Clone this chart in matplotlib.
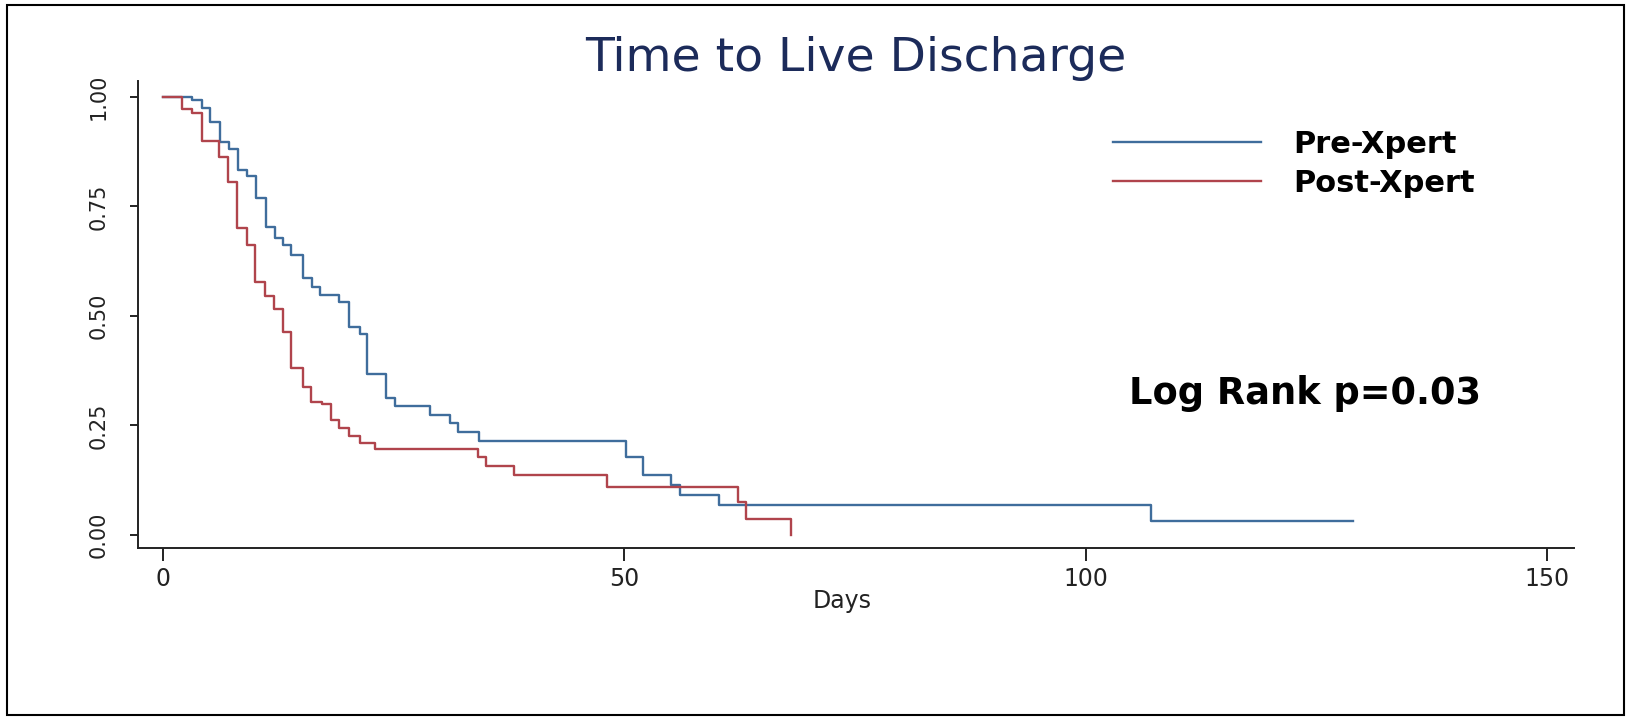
import matplotlib
matplotlib.use("Agg")
import matplotlib.pyplot as plt
from matplotlib.patches import Rectangle

# Kaplan-Meier steps: day of each drop, survival after it
pre_days = [0, 3.1, 4.2, 5.1, 6.2, 7.1, 8.1, 9.1, 10.1, 11.2, 12.1, 13.0, 13.9,
            15.2, 16.1, 17.0, 19.1, 20.2, 21.3, 22.1, 24.2, 25.1, 28.9, 31.1,
            32.0, 34.2, 50.2, 52.0, 55.0, 56.0, 60.2, 107.1, 129.0]
pre_surv = [1.0, 0.992, 0.975, 0.942, 0.898, 0.881, 0.833, 0.820, 0.769, 0.704,
            0.677, 0.662, 0.639, 0.586, 0.567, 0.548, 0.533, 0.475, 0.458, 0.367,
            0.312, 0.295, 0.273, 0.255, 0.234, 0.215, 0.177, 0.138, 0.114, 0.091,
            0.068, 0.033, 0.033]

post_days = [0, 2.1, 3.1, 4.2, 6.1, 7.0, 8.0, 9.1, 10.0, 11.05, 12.05, 13.0,
             13.9, 15.15, 16.05, 17.2, 18.2, 19.1, 20.2, 21.3, 23.0, 34.15, 35.0,
             38.0, 48.15, 62.3, 63.2, 68.1]
post_surv = [1.0, 0.973, 0.963, 0.900, 0.864, 0.807, 0.700, 0.662, 0.578, 0.545,
             0.515, 0.464, 0.381, 0.338, 0.304, 0.298, 0.263, 0.245, 0.226, 0.211,
             0.196, 0.177, 0.157, 0.138, 0.110, 0.076, 0.037, 0.0]

series_labels = ["Pre-Xpert", "Post-Xpert"]
x_ticks = [0, 50, 100, 150]
y_ticks = [0.00, 0.25, 0.50, 0.75, 1.00]

BLUE = "#3f6d9c"
RED = "#b0444c"
INK = "#222222"

W, H = 1627, 717
fig = plt.figure(figsize=(W / 100, H / 100), dpi=100)

# axes box in pixels: left spine x=138, right end x=1574, top y=81, bottom y=548
ax = fig.add_axes([138 / W, (H - 548) / H, (1574 - 138) / W, (548 - 81) / H])

ax.step(pre_days, pre_surv, where="post", color=BLUE, lw=1.7, label=series_labels[0])
ax.step(post_days, post_surv, where="post", color=RED, lw=1.7, label=series_labels[1])

ax.set_xlim(-2.71, 152.9)
ax.set_ylim(-0.0297, 1.0365)

for side in ["top", "right"]:
    ax.spines[side].set_visible(False)
for side in ["left", "bottom"]:
    ax.spines[side].set_color(INK)
    ax.spines[side].set_linewidth(1.4)

ax.set_xticks(x_ticks)
ax.set_xticklabels([str(t) for t in x_ticks], fontsize=17, color=INK)
ax.set_yticks(y_ticks)
ax.set_yticklabels([f"{t:.2f}" for t in y_ticks], fontsize=15, color=INK,
                   rotation=90, va="center")
ax.tick_params(axis="x", length=9, width=1.4, pad=5, color=INK)
ax.tick_params(axis="y", length=6, width=1.4, pad=15, color=INK)

ax.set_xlabel("Days", fontsize=17, color=INK)
ax.xaxis.set_label_coords((842 - 138) / (1574 - 138), (548 - 589) / (548 - 81))

ax.set_title("Time to Live Discharge", fontsize=34, color="#1c2b5a", pad=-1)

ax.legend(loc="upper left", bbox_to_anchor=(1113 / W, 1 - 130 / H),
          bbox_transform=fig.transFigure, frameon=False, borderpad=0,
          borderaxespad=0, handlelength=4.85, handletextpad=1.05,
          labelspacing=0.32, prop={"size": 22, "weight": "bold"})

fig.text(1129 / W, 1 - 394 / H, "Log Rank p=0.03", fontsize=26.5,
         fontweight="bold", color="black", ha="left", va="center")

# thin frame round the whole picture
fig.patches.append(Rectangle((7 / W, 2 / H), (1624 - 7) / W, (712 - 2) / H,
                             transform=fig.transFigure, fill=False,
                             ec="black", lw=1.5))

fig.savefig("out.png", dpi=100)
